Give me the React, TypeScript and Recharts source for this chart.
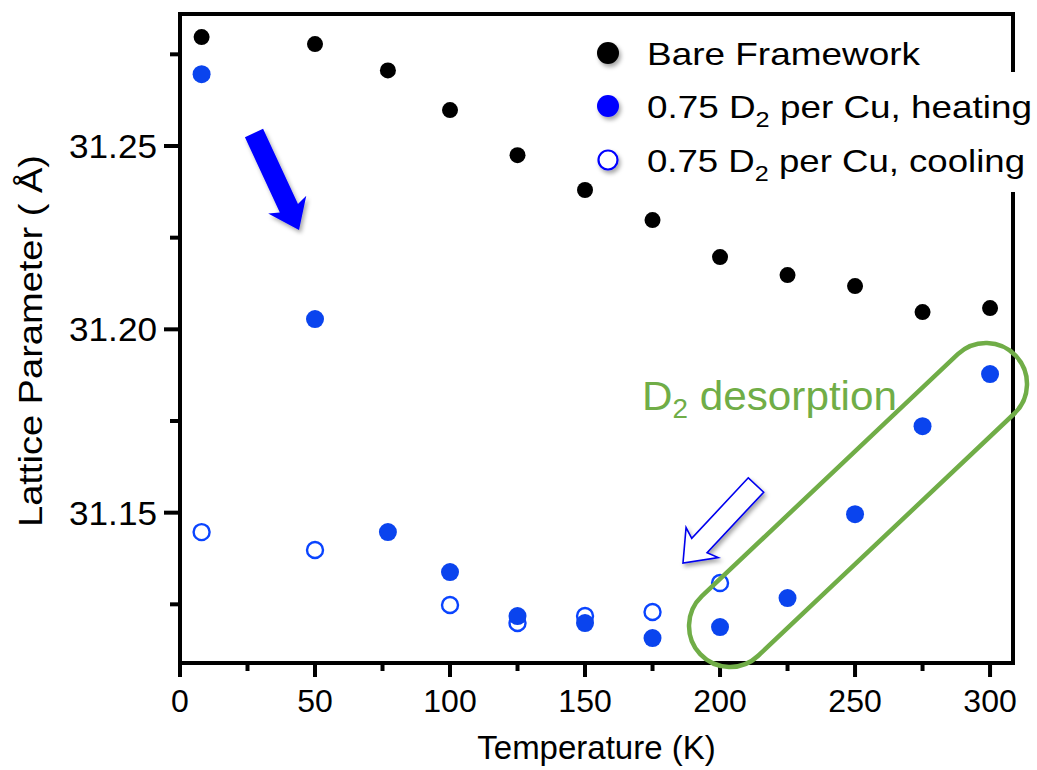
import React from 'react';
import { ScatterChart, Scatter, XAxis, YAxis, ReferenceArea } from 'recharts';

// lattice parameter (Å) vs temperature (K)
const bareT = [8, 50, 77, 100, 125, 150, 175, 200, 225, 250, 275, 300];
const bareA = [31.2797, 31.2778, 31.2706, 31.2598, 31.2475, 31.238, 31.2298, 31.2197, 31.2148, 31.2118, 31.2047, 31.2058];
const heatT = [8, 50, 77, 100, 125, 150, 175, 200, 225, 250, 275, 300];
const heatA = [31.2696, 31.2028, 31.1447, 31.1338, 31.1218, 31.1199, 31.1158, 31.1188, 31.1267, 31.1496, 31.1736, 31.1878];
const coolT = [8, 50, 100, 125, 150, 175, 200];
const coolA = [31.1447, 31.1398, 31.1248, 31.1199, 31.1218, 31.1229, 31.1308];

const xTicks = [0, 25, 50, 75, 100, 125, 150, 175, 200, 225, 250, 275, 300];
const yTicks = [31.125, 31.15, 31.175, 31.2, 31.225, 31.25, 31.275];

const legendItems = [
  { label: 'Bare Framework', kind: 'black' },
  { label: '0.75 D|2| per Cu, heating', kind: 'heat' },
  { label: '0.75 D|2| per Cu, cooling', kind: 'cool' },
];

const W = 1037;
const H = 770;
const X_DOMAIN: [number, number] = [0, 308.5];
const Y_DOMAIN: [number, number] = [31.109, 31.286];
const PLOT = { left: 180, top: 14, right: 1013, bottom: 663 };
const FONT = '"Liberation Sans", Arial, Helvetica, sans-serif';
const GREEN = '#70ad47';

const toRows = (t: number[], a: number[]) => t.map((v, i) => ({ t: v, a: a[i] }));
const bareData = toRows(bareT, bareA);
const heatData = toRows(heatT, heatA);
const coolData = toRows(coolT, coolA);

// same mapping as the chart, used for annotations only
const px = (t: number) => PLOT.left + ((t - X_DOMAIN[0]) / (X_DOMAIN[1] - X_DOMAIN[0])) * (PLOT.right - PLOT.left);
const py = (v: number) => PLOT.top + ((Y_DOMAIN[1] - v) / (Y_DOMAIN[1] - Y_DOMAIN[0])) * (PLOT.bottom - PLOT.top);

const XTick = (props: any) => {
  const { x, y, payload } = props;
  const major = payload.value % 50 === 0;
  return (
    <g>
      <line x1={x} x2={x} y1={y} y2={y + (major ? 14 : 8)} stroke="#000" strokeWidth={4} />
      {major && (
        <text x={x} y={y + 49} textAnchor="middle" fontSize={32} fontFamily={FONT} fill="#000">
          {payload.value}
        </text>
      )}
    </g>
  );
};

const YTick = (props: any) => {
  const { x, y, payload } = props;
  const major = Math.round(payload.value * 1000) % 50 === 0;
  return (
    <g>
      <line x1={x} x2={x - (major ? 16 : 10)} y1={y} y2={y} stroke="#000" strokeWidth={4} />
      {major && (
        <text
          x={x - 23}
          y={y + 12}
          textAnchor="end"
          fontSize={33}
          fontFamily={FONT}
          fill="#000"
          textLength={88}
          lengthAdjust="spacingAndGlyphs"
        >
          {payload.value.toFixed(2)}
        </text>
      )}
    </g>
  );
};

function arrowPoints(x1: number, y1: number, x2: number, y2: number, sw: number, hw: number, hl: number) {
  const L = Math.hypot(x2 - x1, y2 - y1);
  const ux = (x2 - x1) / L;
  const uy = (y2 - y1) / L;
  const nx = -uy;
  const ny = ux;
  const bx = x2 - ux * hl;
  const by = y2 - uy * hl;
  const pts = [
    [x1 + (nx * sw) / 2, y1 + (ny * sw) / 2],
    [bx + (nx * sw) / 2, by + (ny * sw) / 2],
    [bx + (nx * hw) / 2 - ux * 4, by + (ny * hw) / 2 - uy * 4],
    [x2, y2],
    [bx - (nx * hw) / 2 - ux * 4, by - (ny * hw) / 2 - uy * 4],
    [bx - (nx * sw) / 2, by - (ny * sw) / 2],
    [x1 - (nx * sw) / 2, y1 - (ny * sw) / 2],
  ];
  return pts.map((p) => p.join(',')).join(' ');
}

function LegendText({ x, y, label, width }: { x: number; y: number; label: string; width: number }) {
  const parts = label.split('|');
  return (
    <text x={x} y={y} fontSize={32} fontFamily={FONT} fill="#000" textLength={width} lengthAdjust="spacingAndGlyphs">
      {parts.length === 1 ? (
        label
      ) : (
        <>
          <tspan>{parts[0]}</tspan>
          <tspan dy={9} fontSize={22}>{parts[1]}</tspan>
          <tspan dy={-9}>{parts[2]}</tspan>
        </>
      )}
    </text>
  );
}

function Overlay() {
  const c1 = { x: px(203.7), y: py(31.1191) };
  const c2 = { x: px(298.5), y: py(31.1851) };
  const r = 41;
  const len = Math.hypot(c2.x - c1.x, c2.y - c1.y) + 2 * r;
  const ang = (Math.atan2(c2.y - c1.y, c2.x - c1.x) * 180) / Math.PI;
  const cx = (c1.x + c2.x) / 2;
  const cy = (c1.y + c2.y) / 2;
  const rows = [53, 106, 160];
  const widths = [273, 385, 378];
  return (
    <svg width={W} height={H} style={{ position: 'absolute', left: 0, top: 0, pointerEvents: 'none' }}>
      <defs>
        <filter id="shadow" x="-50%" y="-50%" width="200%" height="200%">
          <feDropShadow dx={2} dy={3} stdDeviation={2.2} floodColor="#000" floodOpacity={0.35} />
        </filter>
      </defs>

      {/* legend */}
      <rect x={642} y={72} width={W - 642} height={120} fill="#fff" />
      {legendItems.map((it, i) => (
        <g key={it.label}>
          {it.kind === 'cool' ? (
            <circle cx={608} cy={rows[i]} r={9.5} fill="#fff" stroke="#0000ff" strokeWidth={2.2} filter="url(#shadow)" />
          ) : (
            <circle cx={608} cy={rows[i]} r={11} fill={it.kind === 'black' ? '#000' : '#0000ff'} filter="url(#shadow)" />
          )}
          <LegendText x={647} y={rows[i] + 12} label={it.label} width={widths[i]} />
        </g>
      ))}

      {/* heating arrow */}
      <polygon points={arrowPoints(254, 133, 299, 230, 20, 42, 24)} fill="#0000ff" filter="url(#shadow)" />
      {/* cooling arrow */}
      <polygon
        points={arrowPoints(756, 485, 683, 563, 21, 44, 24)}
        fill="#fff"
        stroke="#0000ee"
        strokeWidth={1.6}
        strokeLinejoin="miter"
        filter="url(#shadow)"
      />

      {/* desorption region */}
      <rect
        x={cx - len / 2}
        y={cy - r}
        width={len}
        height={2 * r}
        rx={r}
        ry={r}
        fill="none"
        stroke={GREEN}
        strokeWidth={4.5}
        transform={`rotate(${ang} ${cx} ${cy})`}
      />
      <text x={642} y={410} fontSize={41} fontFamily={FONT} fill={GREEN} textLength={255} lengthAdjust="spacingAndGlyphs">
        <tspan>D</tspan>
        <tspan dy={8} fontSize={27}>2</tspan>
        <tspan dy={-8}> desorption</tspan>
      </text>
    </svg>
  );
}

export default function App() {
  return (
    <div style={{ position: 'absolute', left: 0, top: 0, width: W, height: H, background: '#fff', fontFamily: FONT }}>
      <ScatterChart
        width={W}
        height={H}
        margin={{ top: PLOT.top, right: W - PLOT.right, bottom: 0, left: 0 }}
      >
        <XAxis
          type="number"
          dataKey="t"
          domain={X_DOMAIN}
          ticks={xTicks}
          interval={0}
          allowDataOverflow
          axisLine={false}
          tickLine={false}
          tickSize={0}
          tickMargin={0}
          height={H - PLOT.bottom}
          tick={<XTick />}
          label={{
            value: 'Temperature (K)',
            position: 'insideBottom',
            offset: 11,
            fontSize: 33,
            fontFamily: FONT,
            fill: '#000',
          }}
        />
        <YAxis
          type="number"
          dataKey="a"
          domain={Y_DOMAIN}
          ticks={yTicks}
          interval={0}
          allowDataOverflow
          axisLine={false}
          tickLine={false}
          tickSize={0}
          tickMargin={0}
          width={PLOT.left}
          tick={<YTick />}
          label={() => (
            <text
              x={42}
              y={341}
              transform="rotate(-90 42 341)"
              textAnchor="middle"
              fontSize={34}
              fontFamily={FONT}
              fill="#000"
              textLength={372}
              lengthAdjust="spacingAndGlyphs"
            >
              Lattice Parameter ( Å)
            </text>
          )}
        />
        <ReferenceArea
          x1={X_DOMAIN[0]}
          x2={X_DOMAIN[1]}
          y1={Y_DOMAIN[0]}
          y2={Y_DOMAIN[1]}
          fill="none"
          fillOpacity={0}
          stroke="#000"
          strokeWidth={4}
          ifOverflow="visible"
        />
        <Scatter
          data={bareData}
          isAnimationActive={false}
          shape={(p: any) => <circle cx={p.cx} cy={p.cy} r={8} fill="#000" />}
        />
        <Scatter
          data={coolData}
          isAnimationActive={false}
          shape={(p: any) => <circle cx={p.cx} cy={p.cy} r={8} fill="#fff" stroke="#0a44ff" strokeWidth={2.4} />}
        />
        <Scatter
          data={heatData}
          isAnimationActive={false}
          shape={(p: any) => <circle cx={p.cx} cy={p.cy} r={9} fill="#0a44ee" />}
        />
      </ScatterChart>
      <Overlay />
    </div>
  );
}
